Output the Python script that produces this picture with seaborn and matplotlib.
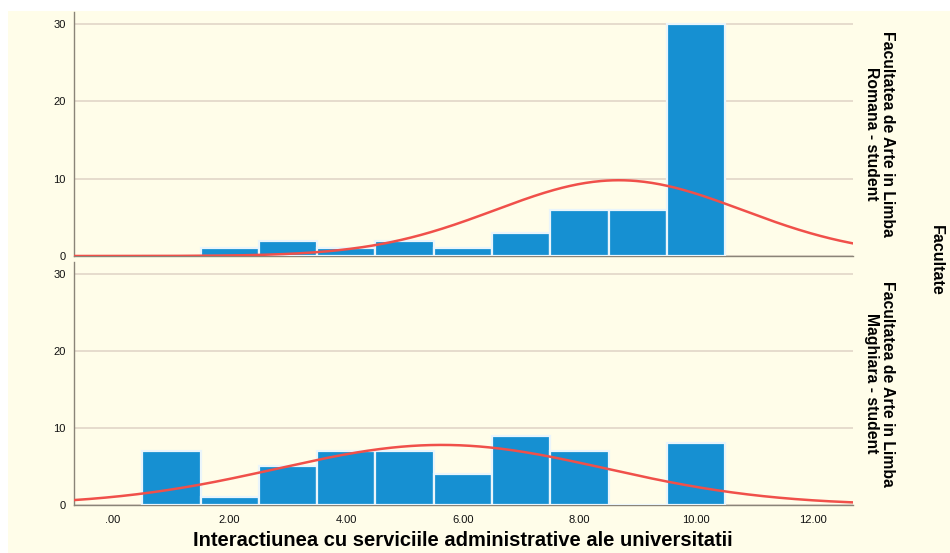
import numpy as np
import pandas as pd
import matplotlib
matplotlib.use("Agg")
import matplotlib.pyplot as plt
import seaborn as sns
from matplotlib.patches import Rectangle

# Scores on the interaction scale and counts per faculty
scores = [1, 2, 3, 4, 5, 6, 7, 8, 9, 10]
counts_romana = [0, 1, 2, 1, 2, 1, 3, 6, 6, 30]
counts_maghiara = [7, 1, 5, 7, 7, 4, 9, 7, 0, 8]
faculties = ["Facultatea de Arte in Limba\nRomana - student",
             "Facultatea de Arte in Limba\nMaghiara - student"]
x_ticks = [0, 2, 4, 6, 8, 10, 12]
x_tick_labels = [".00", "2.00", "4.00", "6.00", "8.00", "10.00", "12.00"]
y_ticks = [0, 10, 20, 30]

BG = "#FFFDE9"
BAR = "#1690D2"
CURVE = "#F0504A"
GRID = "#E2D6C8"
SPINE = "#8A8478"
TXT = "#000000"

sns.set_theme(style="white")
plt.rcParams["font.family"] = ["Liberation Sans", "DejaVu Sans"]
plt.rcParams["text.color"] = TXT

fig = plt.figure(figsize=(9.5, 5.53), dpi=100, facecolor="white")
fig.patches.append(Rectangle((8 / 950, 0), 1, 1 - 11 / 553, transform=fig.transFigure,
                             facecolor=BG, edgecolor="none", zorder=-10))

left, width = 74 / 950, (853 - 74) / 950
ax_top = fig.add_axes([left, 1 - 256 / 553, width, (256 - 12) / 553])
ax_bot = fig.add_axes([left, 1 - 505 / 553, width, (505 - 262) / 553])

xs = np.linspace(-0.7, 12.7, 400)
narrow = ["Liberation Sans Narrow", "Liberation Sans", "DejaVu Sans"]

for ax, counts, label in [(ax_top, counts_romana, faculties[0]),
                          (ax_bot, counts_maghiara, faculties[1])]:
    df = pd.DataFrame({"score": scores, "n": counts})
    ax.set_facecolor(BG)
    sns.histplot(data=df, x="score", weights="n", binwidth=1, binrange=(0.5, 10.5), ax=ax,
                 color=BAR, alpha=1.0, edgecolor="#EAF5FB", linewidth=1.6, zorder=3)
    # Normal curve fitted to the distribution
    vals = np.repeat(scores, counts)
    n = len(vals)
    mu = vals.mean()
    sd = vals.std(ddof=1)
    pdf = n * 1.0 / (sd * np.sqrt(2 * np.pi)) * np.exp(-0.5 * ((xs - mu) / sd) ** 2)
    sns.lineplot(x=xs, y=pdf, ax=ax, color=CURVE, linewidth=1.8, zorder=4)

    ax.set_xlim(-0.67, 12.69)
    ax.set_ylim(0, 31.5)
    ax.set_yticks(y_ticks)
    ax.set_yticklabels([str(t) for t in y_ticks], fontsize=8, color="#111111")
    ax.yaxis.grid(True, color=GRID, linewidth=1.2, zorder=0)
    ax.xaxis.grid(False)
    ax.set_axisbelow(True)
    for s in ["top", "right"]:
        ax.spines[s].set_visible(False)
    for s in ["left", "bottom"]:
        ax.spines[s].set_color(SPINE)
        ax.spines[s].set_linewidth(1.0)
    ax.tick_params(axis="both", length=0, pad=6)
    ax.set_ylabel("")
    ax.set_xlabel("")
    ax.text(1.034, 0.5, label, transform=ax.transAxes, rotation=-90,
            ha="center", va="center", fontsize=11.3, fontweight="bold",
            family=narrow, color=TXT, linespacing=1.1)

ax_top.set_xticks(x_ticks)
ax_top.set_xticklabels([])
ax_bot.set_xticks(x_ticks)
ax_bot.set_xticklabels(x_tick_labels, fontsize=8, color="#111111")
ax_bot.tick_params(axis="x", pad=7)

fig.text(463 / 950, 1 - 541 / 553, "Interactiunea cu serviciile administrative ale universitatii",
         ha="center", va="center", fontsize=14.5, fontweight="bold", color=TXT)
fig.text(936 / 950, 1 - 260 / 553, "Facultate", rotation=-90, ha="center", va="center",
         fontsize=11.5, fontweight="bold", family=narrow, color=TXT)

fig.savefig("out.png", dpi=100, facecolor=fig.get_facecolor())
